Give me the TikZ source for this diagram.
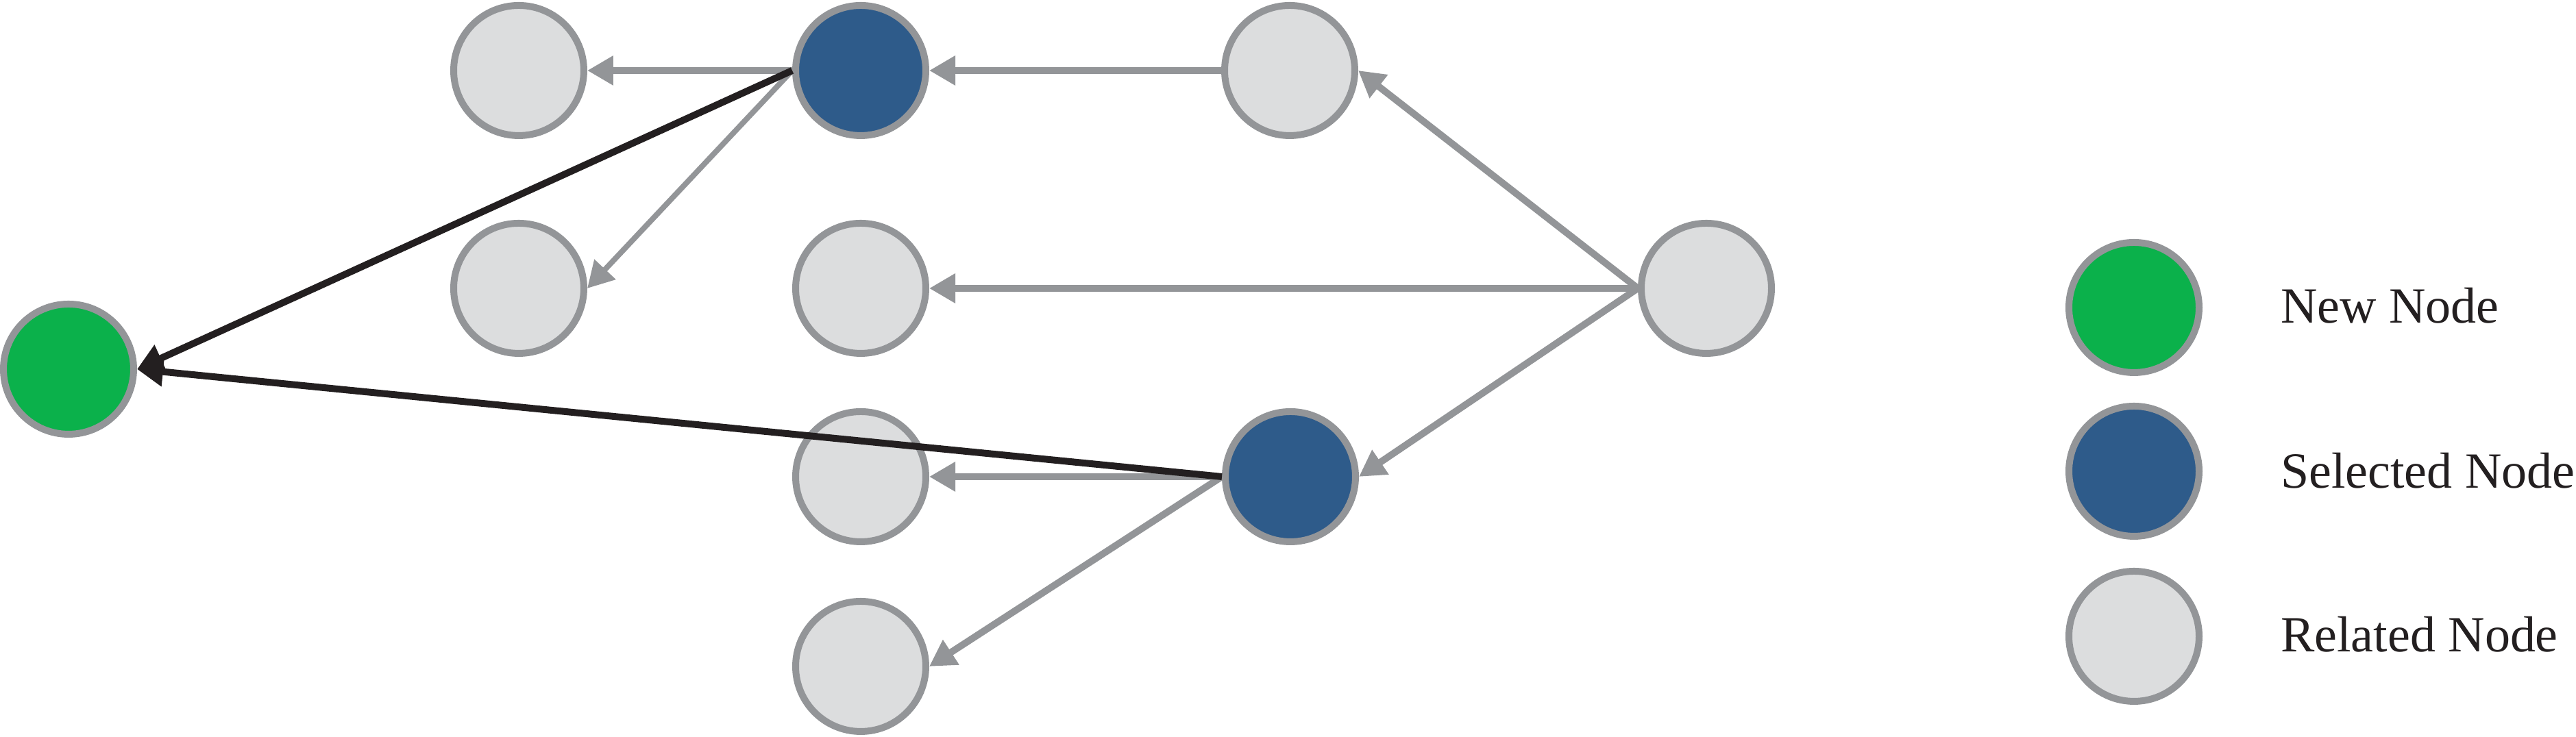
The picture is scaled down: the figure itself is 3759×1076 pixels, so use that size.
\documentclass[tikz,border=0pt]{standalone}
\usepackage{fontspec}
\setmainfont{Liberation Serif}
\usetikzlibrary{arrows.meta}
\definecolor{edgegray}{HTML}{939598}
\definecolor{relfill}{HTML}{DCDDDE}
\definecolor{selfill}{HTML}{2E5B8A}
\definecolor{newfill}{HTML}{0BB14B}
\definecolor{darkline}{HTML}{231F20}
\tikzset{
  basenode/.style={circle, draw=edgegray, line width=1pt, minimum size=19pt, inner sep=0pt},
  relnode/.style={basenode, fill=relfill},
  selnode/.style={basenode, fill=selfill},
  newnode/.style={basenode, fill=newfill},
  grayedge/.style={draw=edgegray, line width=1pt, -{Triangle[length=3.8pt,width=4.1pt]}},
  thinedge/.style={grayedge, line width=0.8pt},
  blackedge/.style={draw=darkline, line width=1pt, -{Triangle[length=3.8pt,width=4.1pt]}},
  legendtext/.style={anchor=base west, inner sep=0pt, font=\fontsize{7.4pt}{9pt}\selectfont, text=darkline}
}
\begin{document}
\begin{tikzpicture}[x=0.1pt,y=-0.1pt]
\useasboundingbox (0,0) rectangle (3759,1076);
% nodes
\node[newnode] (G) at (100,539) {};
\node[relnode] (r1a) at (757,103) {};
\node[selnode] (s1) at (1256,103) {};
\node[relnode] (r1c) at (1882,103) {};
\node[relnode] (r2a) at (757,421) {};
\node[relnode] (r2b) at (1256,421) {};
\node[relnode] (R) at (2490,421) {};
\node[relnode] (r3b) at (1256,696) {};
\node[selnode] (s2) at (1883,696) {};
\node[relnode] (r4b) at (1256,973) {};
% gray edges
\draw[grayedge] (s1.west) -- (r1a.east);
\draw[grayedge] (r1c.west) -- (s1.east);
\draw[grayedge] (R.west) -- (r1c.east);
\draw[grayedge] (R.west) -- (r2b.east);
\draw[grayedge] (R.west) -- (s2.east);
\draw[thinedge] (s1.west) -- (r2a.east);
\draw[grayedge] (s2.west) -- (r3b.east);
\draw[grayedge] (s2.west) -- (r4b.east);
% black edges
\draw[blackedge] (s1.west) -- (G.east);
\draw[blackedge] (s2.west) -- (G.east);
% legend
\node[newnode] (lg1) at (3114,449) {};
\node[selnode] (lg2) at (3114,688) {};
\node[relnode] (lg3) at (3114,929) {};
\node[legendtext] (lt1) at (3326,472) {New Node};
\node[legendtext] (lt2) at (3326,713) {Selected Node};
\node[legendtext] (lt3) at (3326,952) {Related Node};
\end{tikzpicture}
\end{document}
